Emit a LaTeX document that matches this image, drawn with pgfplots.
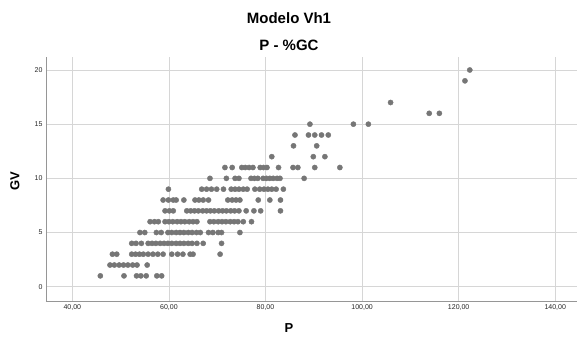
\documentclass[border=0pt]{standalone}
\usepackage{pgfplots}
\pgfplotsset{compat=1.18}
\usepackage{fontspec}
\setmainfont{Liberation Sans}
\definecolor{pt}{RGB}{118,118,118}
\definecolor{gr}{RGB}{214,214,214}
\definecolor{ax}{RGB}{150,150,150}
\begin{document}
\begin{tikzpicture}
\begin{axis}[scale only axis, width=531pt, height=244pt,
 xmin=34.55, xmax=144.5, ymin=-1.32, ymax=21.2,
 axis x line*=bottom, axis y line*=left,
 axis line style={ax, line width=0.8pt, -},
 xtick={40,60,80,100,120,140},
 xticklabels={{40,00},{60,00},{80,00},{100,00},{120,00},{140,00}},
 ytick={0,5,10,15,20},
 grid=major, major grid style={gr, line width=0.6pt},
 major tick length=0pt,
 tick label style={font=\fontsize{7}{8}\selectfont, text=black!85},
 /pgf/number format/assume math mode=true,
]
\addplot[only marks, mark=*, mark size=2.6pt, mark options={fill=pt, draw=pt}] table {
x y
45.8 1
50.7 1
53.3 1
54.2 1
55.3 1
57.5 1
58.5 1
47.8 2
48.7 2
49.7 2
50.6 2
51.5 2
52.5 2
53.4 2
55.5 2
48.3 3
49.2 3
52.3 3
53.1 3
53.9 3
54.7 3
55.7 3
56.7 3
57.7 3
58.8 3
60.6 3
61.8 3
62.9 3
64.4 3
65.0 3
70.6 3
52.3 4
53.2 4
54.3 4
55.7 4
56.5 4
57.3 4
58.2 4
59.0 4
59.8 4
60.6 4
61.5 4
62.3 4
63.1 4
64.0 4
64.8 4
65.8 4
67.1 4
70.9 4
54.0 5
55.0 5
57.4 5
58.4 5
59.8 5
60.6 5
61.5 5
62.3 5
63.1 5
64.0 5
64.8 5
65.7 5
66.5 5
68.2 5
69.1 5
70.2 5
70.9 5
74.7 5
56.1 6
57.0 6
57.8 6
59.2 6
60.0 6
60.8 6
61.7 6
62.5 6
63.3 6
64.2 6
65.0 6
65.8 6
68.5 6
69.3 6
70.2 6
71.0 6
71.8 6
72.7 6
73.5 6
74.3 6
75.4 6
77.1 6
59.2 7
60.1 7
60.9 7
63.7 7
64.5 7
65.3 7
66.1 7
67.0 7
67.8 7
68.6 7
69.4 7
70.3 7
71.1 7
71.9 7
72.8 7
73.6 7
74.5 7
76.0 7
77.6 7
79.0 7
83.1 7
58.8 8
59.9 8
60.9 8
61.5 8
63.1 8
65.4 8
66.2 8
67.1 8
68.2 8
72.2 8
73.1 8
73.9 8
74.7 8
78.5 8
80.9 8
83.1 8
59.9 9
66.8 9
67.8 9
68.8 9
69.9 9
71.3 9
72.9 9
73.7 9
74.5 9
75.4 9
76.2 9
77.8 9
78.8 9
79.7 9
80.5 9
81.3 9
82.2 9
83.7 9
68.5 10
71.9 10
73.7 10
74.5 10
77.0 10
77.7 10
78.4 10
79.5 10
80.2 10
80.9 10
81.6 10
82.4 10
83.0 10
88.0 10
71.6 11
73.1 11
75.1 11
75.8 11
76.6 11
77.4 11
78.9 11
79.6 11
80.3 11
82.7 11
85.7 11
86.7 11
90.2 11
95.4 11
81.3 12
89.9 12
92.3 12
85.8 13
90.6 13
86.1 14
88.9 14
90.2 14
91.6 14
93.0 14
89.2 15
98.2 15
101.3 15
113.9 16
116.0 16
105.9 17
121.3 19
122.3 20
};
\end{axis}
\node[font=\bfseries\fontsize{15}{17}\selectfont] at (243pt,283pt) {Modelo Vh1};
\node[font=\bfseries\fontsize{15}{17}\selectfont] at (243pt,256pt) {P - \%GC};
\node[font=\bfseries\fontsize{13}{15}\selectfont] at (243pt,-27pt) {P};
\node[font=\bfseries\fontsize{13}{15}\selectfont, rotate=90] at (-31pt,120pt) {GV};
\pgfresetboundingbox
\useasboundingbox (-46pt,-44pt) rectangle (532pt,301pt);
\end{tikzpicture}
\end{document}
